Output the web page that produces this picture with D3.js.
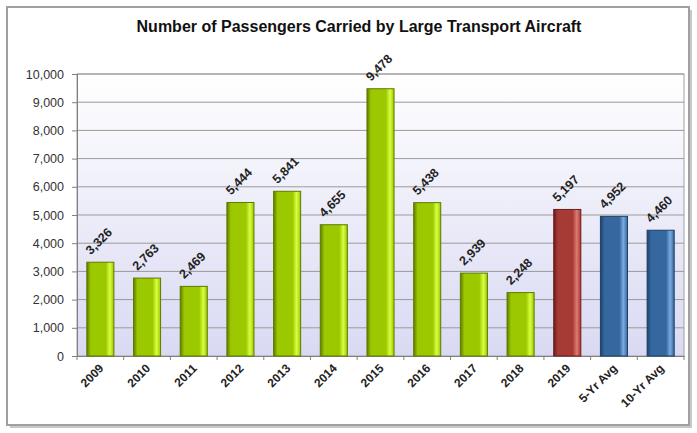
<!DOCTYPE html>
<html><head><meta charset="utf-8">
<script src="https://cdn.jsdelivr.net/npm/d3@7"></script>
<style>body{margin:0;background:#fff;font-family:"Liberation Sans",Arial,sans-serif}</style>
</head><body><svg id="c" width="697" height="433"></svg>
<script>
const categories = ["2009","2010","2011","2012","2013","2014","2015","2016","2017","2018","2019","5-Yr Avg","10-Yr Avg"];
const values = [3326,2763,2469,5444,5841,4655,9478,5438,2939,2248,5197,4952,4460];
const kinds = ["g","g","g","g","g","g","g","g","g","g","r","b","b"];
const yTicks = [0,1000,2000,3000,4000,5000,6000,7000,8000,9000,10000];
const title = "Number of Passengers Carried by Large Transport Aircraft";

const svg = d3.select("#c");
const defs = svg.append("defs");
const sh = defs.append("linearGradient").attr("id","bg").attr("x1",0).attr("y1",0).attr("x2",0).attr("y2",1);
sh.append("stop").attr("offset","0").attr("stop-color","#ffffff");
sh.append("stop").attr("offset","1").attr("stop-color","#d9d9f3");
const cols = {g:["#5f7a00","#9cc800","#d8ff40"], r:["#6a1c1c","#a63a34","#e07a70"], b:["#1f3f66","#35689f","#7aaae0"]};
Object.entries(cols).forEach(([k,c])=>{
  const g = defs.append("linearGradient").attr("id","bar"+k).attr("x1",0).attr("y1",0).attr("x2",1).attr("y2",0);
  g.append("stop").attr("offset","0").attr("stop-color",c[0]);
  g.append("stop").attr("offset","0.15").attr("stop-color",c[1]);
  g.append("stop").attr("offset","0.7").attr("stop-color",c[1]);
  g.append("stop").attr("offset","0.85").attr("stop-color",c[2]);
  g.append("stop").attr("offset","1").attr("stop-color",c[1]);
});
svg.append("rect").attr("x",10).attr("y",10).attr("width",682).attr("height",418).attr("fill","#c8c8c8");
svg.append("rect").attr("x",7).attr("y",7).attr("width",682).attr("height",418).attr("fill","#fff").attr("stroke","#a0a0a0").attr("stroke-width",2);

const x0=77, x1=684, yTop=74, yBot=356;
const x = d3.scaleBand().domain(categories).range([x0,x1]).paddingInner(0.42).paddingOuter(0.21);
const y = d3.scaleLinear().domain([0,10000]).range([yBot,yTop]);

svg.append("rect").attr("x",x0).attr("y",yTop).attr("width",x1-x0).attr("height",yBot-yTop).attr("fill","url(#bg)").attr("stroke","#a0a0a0");
svg.append("g").selectAll("line").data(yTicks.slice(1)).join("line")
  .attr("x1",x0).attr("x2",x1).attr("y1",d=>y(d)).attr("y2",d=>y(d)).attr("stroke","#9a9a9a").attr("stroke-width",1);

const ya = svg.append("g").attr("transform",`translate(${x0},0)`).call(d3.axisLeft(y).tickValues(yTicks).tickFormat(d3.format(",")).tickSize(5).tickPadding(8));
ya.select(".domain").attr("stroke","#808080");
ya.selectAll(".tick line").attr("stroke","#808080");
ya.selectAll("text").attr("font-size",12.5).attr("fill","#333").attr("font-family","Liberation Sans, Arial");

const xa = svg.append("g").attr("transform",`translate(0,${yBot})`).call(d3.axisBottom(x).tickSize(0).tickFormat(""));
xa.select(".domain").attr("stroke","#808080");
const step = x.step();
svg.append("g").selectAll("line").data(d3.range(categories.length+1)).join("line")
  .attr("x1",i=>x0+i*step).attr("x2",i=>x0+i*step).attr("y1",yBot).attr("y2",yBot+4).attr("stroke","#808080");

svg.append("g").selectAll("rect").data(values).join("rect")
  .attr("x",(d,i)=>x(categories[i])).attr("width",x.bandwidth())
  .attr("y",d=>y(d)).attr("height",d=>yBot-y(d))
  .attr("fill",(d,i)=>`url(#bar${kinds[i]})`).attr("stroke",(d,i)=>cols[kinds[i]][0]).attr("stroke-width",1);

svg.append("g").selectAll("text").data(values).join("text")
  .attr("transform",(d,i)=>`translate(${x(categories[i])+4},${y(d)-7}) rotate(-45)`)
  .attr("font-size",12.5).attr("font-weight","bold").attr("fill","#222")
  .text(d=>d3.format(",")(d));

svg.append("g").selectAll("text").data(categories).join("text")
  .attr("transform",(d)=>`translate(${x(d)+x.bandwidth()/2+4},${yBot+13}) rotate(-45)`)
  .attr("text-anchor","end").attr("font-size",12).attr("font-weight","bold").attr("fill","#222")
  .text(d=>d);

svg.append("text").attr("x",359).attr("y",32).attr("text-anchor","middle").attr("font-size",16).attr("font-weight","bold").attr("fill","#111").text(title);
</script></body></html>
